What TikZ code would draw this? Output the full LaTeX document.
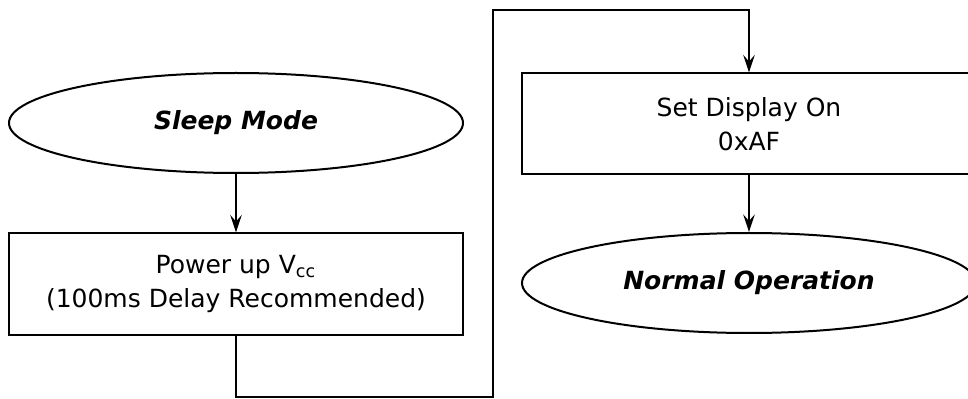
\documentclass[tikz,border=0pt]{standalone}
\usepackage{fontspec}
\setmainfont{DejaVu Sans}
\usetikzlibrary{arrows.meta,shapes.geometric}

\begin{document}
\begin{tikzpicture}[x=0.4pt, y=-0.4pt,
        every node/.style={font=\fontsize{10}{13.5}\selectfont, align=center},
        state/.style={draw, thick, ellipse, inner sep=0pt, minimum width=181.6pt, minimum height=40pt, font=\fontsize{10}{13.5}\selectfont\bfseries\itshape},
        stepbox/.style={draw, thick, rectangle, inner sep=0pt, minimum width=181.6pt, minimum height=40.4pt},
        arr/.style={-{Stealth[length=7pt, width=4.6pt, inset=2.6pt]}, line width=0.8pt}]
        \useasboundingbox (0,0) rectangle (968,399);

        % Columna 1
        \node[state] (sleep) at (236, 123) {Sleep Mode};
        \node[stepbox] (power) at (236, 284) {Power up V\textsubscript{cc}\\(100ms Delay Recommended)};

        % Columna 2
        \node[stepbox] (display) at (749, 124) {Set Display On\\0xAF};
        \node[state] (normal) at (749, 283) {Normal Operation};

        % Conexiones
        \coordinate (turnA) at (493, 397);
        \coordinate (turnB) at (493, 10);
        \draw[arr] (sleep) -- (power);
        \draw[arr] (power.south) |- (turnA) -- (turnB) -| (display.north);
        \draw[arr] (display) -- (normal);
    \end{tikzpicture}
\end{document}
